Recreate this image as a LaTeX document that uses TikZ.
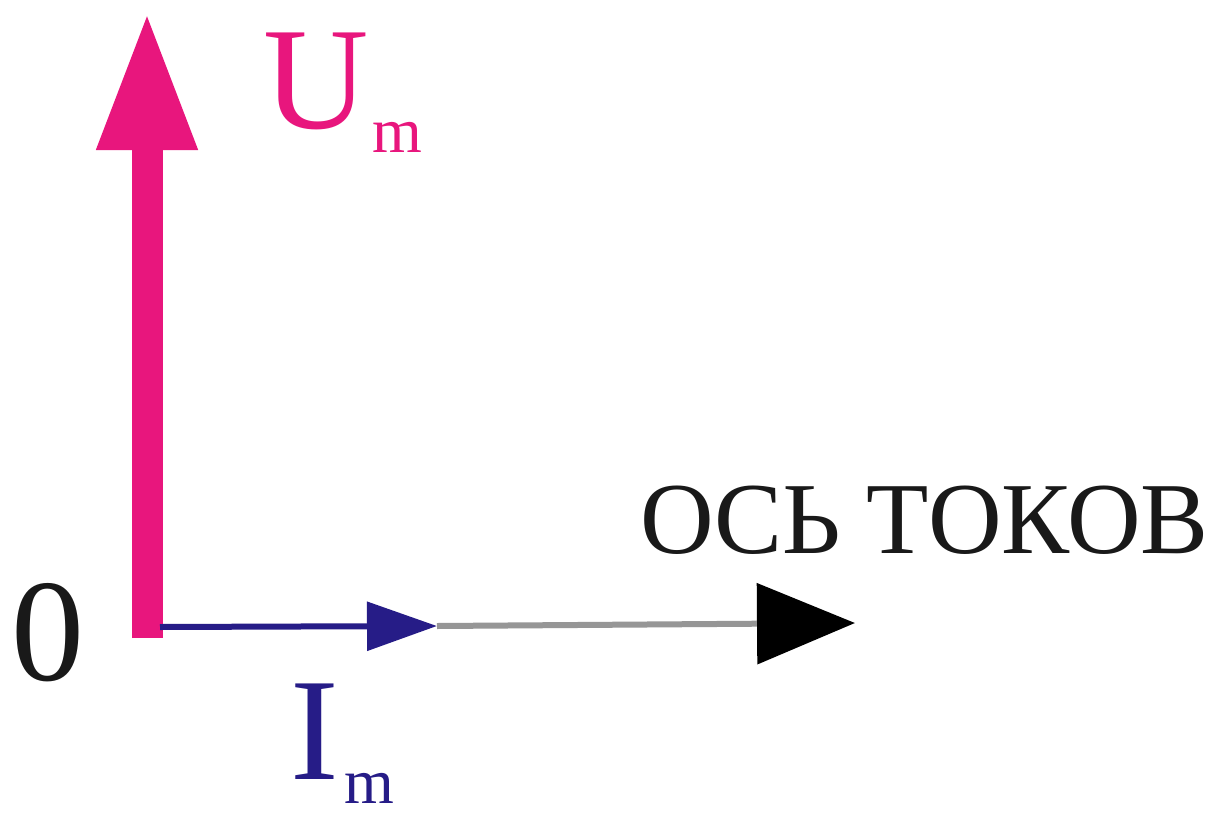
\documentclass[tikz,border=0pt]{standalone}
\usepackage{fontspec}
\setmainfont{Liberation Serif}
\usetikzlibrary{arrows.meta}
\definecolor{vpink}{RGB}{232,22,125}
\definecolor{iblue}{RGB}{38,28,135}
\definecolor{axgray}{RGB}{150,150,150}
\definecolor{txtdark}{RGB}{25,25,25}
\tikzset{
  lbl/.style={inner sep=0pt, outer sep=0pt},
  bigfont/.style={font=\fontsize{146}{146}\selectfont},
}
\newcommand{\subm}[1]{\raisebox{#1}{\fontsize{64}{64}\selectfont m}}
\begin{document}
\begin{tikzpicture}[x=1pt,y=-1pt]
\useasboundingbox[fill=white] (0,0) rectangle (1214,816);
% key points
\coordinate (Ubase) at (147,638);
\coordinate (Utip) at (147,10);
\coordinate (Istart) at (160,627);
\coordinate (Itip) at (437,626);
\coordinate (Aend) at (855,623);
% voltage vector
\draw[vpink, line width=31pt, line cap=butt,
  -{Triangle[length=140pt,width=92pt]}] (Ubase) -- (Utip);
% axis of currents (gray part)
\draw[axgray, line width=6pt,
  -{Triangle[length=98pt,width=80pt,color=black]}] (Itip) -- (Aend);
% current vector
\draw[iblue, line width=6pt,
  -{Triangle[length=70pt,width=48pt]}] (Istart) -- (Itip);
% labels
\node[lbl, bigfont, text=txtdark, anchor=base] (lblZero) at (48,680) {0};
\node[lbl, bigfont, text=vpink, anchor=base west] (lblU) at (263,128) {U\kern4pt\subm{-24pt}};
\node[lbl, bigfont, text=iblue, anchor=base west] (lblI) at (290,779) {I\kern6pt\subm{-24pt}};
\node[lbl, text=txtdark, font=\fontsize{102}{102}\selectfont, anchor=base west] (lblAxis) at (640,553) {ОСЬ ТОКОВ};
\end{tikzpicture}
\end{document}
